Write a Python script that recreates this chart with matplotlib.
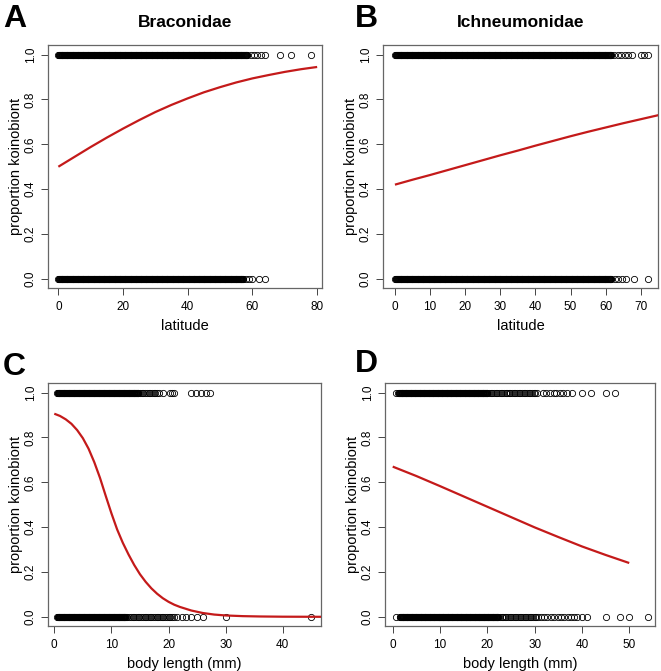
import numpy as np
import matplotlib
matplotlib.use('Agg')
from matplotlib import pyplot as plt

plt.rcParams['font.family'] = ['Liberation Sans', 'DejaVu Sans']

# Panel A - Braconidae, latitude
a_curve_x = [0, 5, 10, 15, 20, 25, 30, 35, 40, 45, 50, 55, 60, 65, 70, 75, 80]
a_curve_y = [0.500, 0.544, 0.588, 0.630, 0.670, 0.708, 0.744, 0.776, 0.805,
             0.832, 0.855, 0.876, 0.894, 0.909, 0.923, 0.935, 0.945]
a_band_top = (0, 58.5)
a_band_bot = (0, 57.3)
a_out_top = [59.5, 60.5, 61.5, 62.5, 64, 68.5, 72, 78]
a_out_bot = [58, 59, 60, 62, 64]

# Panel B - Ichneumonidae, latitude
b_curve_x = [0, 5, 10, 15, 20, 25, 30, 35, 40, 45, 50, 55, 60, 65, 70, 75]
b_curve_y = [0.420, 0.442, 0.463, 0.485, 0.507, 0.529, 0.551, 0.572, 0.594,
             0.615, 0.636, 0.656, 0.675, 0.694, 0.712, 0.730]
b_band_top = (0.3, 61.7)
b_band_bot = (0.3, 61.7)
b_out_top = [0, 62.5, 63.5, 64.5, 65.5, 66.5, 67.5, 70, 71, 72]
b_out_bot = [0, 62.7, 63.6, 64.6, 65.8, 68, 72]

# Panel C - Braconidae, body length
c_curve_x = [0, 1, 2, 3, 4, 5, 6, 7, 8, 9, 10, 11, 12, 13, 14, 15, 16, 17, 18,
             19, 20, 21, 22, 24, 26, 28, 30, 33, 36, 40, 47]
c_curve_y = [0.906, 0.896, 0.881, 0.861, 0.833, 0.797, 0.750, 0.690, 0.620,
             0.540, 0.462, 0.390, 0.330, 0.278, 0.231, 0.190, 0.156, 0.127,
             0.103, 0.083, 0.067, 0.054, 0.044, 0.028, 0.017, 0.010, 0.006,
             0.003, 0.0015, 0.0005, 0.0]
c_band_top = (0.5, 14.7)
c_semi_top = (14.7, 18.3)
c_band_bot = (0.5, 12.5)
c_semi_bot = (12.5, 20.9)
c_out_top = [19, 20.2, 20.6, 21, 24, 24.8, 25.7, 26.5, 27.2]
c_out_bot = [21.5, 22.3, 23, 24, 25, 26, 30, 45]

# Panel D - Ichneumonidae, body length
d_curve_x = [0, 5, 10, 15, 20, 25, 30, 35, 40, 45, 50]
d_curve_y = [0.670, 0.628, 0.583, 0.537, 0.491, 0.445, 0.399, 0.356, 0.314,
             0.276, 0.240]
d_band_top = (1.2, 20)
d_semi_top = (20, 30.8)
d_band_bot = (1.5, 22.3)
d_semi_bot = (22.3, 30.8)
d_out_top = [0.7, 31.8, 32.5, 33.2, 34, 34.6, 35.4, 36, 36.9, 38, 40, 42, 45, 47]
d_out_bot = [0.8, 31.4, 32, 32.7, 33.4, 34.2, 34.9, 35.6, 36.3, 37, 37.7,
             38.4, 39, 40, 41, 45, 48, 50, 54]

y_ticks = [0.0, 0.2, 0.4, 0.6, 0.8, 1.0]

W, H = 661, 671
fig = plt.figure(figsize=(W / 100, H / 100), dpi=100)


def add_axes(left, top, right, bottom):
  ax = fig.add_axes([left / W, 1 - bottom / H, (right - left) / W, (bottom - top) / H])
  ax.width_px = right - left
  return ax


def circles(ax, xs, y):
  ax.plot(xs, [y] * len(xs), 'o', mfc='none', mec='black', ms=4.5, mew=0.6,
          clip_on=False)


def band(ax, rng, y, step):
  if rng is None:
    return
  xs = np.arange(rng[0], rng[1] + 1e-9, step)
  circles(ax, list(xs), y)


def draw_panel(ax, cx, cy, top, bot, out_top, out_bot, xlim, xticks, xlabel,
               semi_top=None, semi_bot=None, semi_step=0.5):
  step = (xlim[1] - xlim[0]) / 600
  band(ax, top, 1.0, step)
  band(ax, bot, 0.0, step)
  band(ax, semi_top, 1.0, semi_step)
  band(ax, semi_bot, 0.0, semi_step)
  circles(ax, out_top, 1.0)
  circles(ax, out_bot, 0.0)
  ax.plot(cx, cy, color='#C41A1A', lw=1.6, solid_capstyle='butt', zorder=5)

  ax.set_xlim(*xlim)
  ax.set_ylim(-0.041, 1.043)
  ax.set_xticks(xticks)
  ax.set_yticks(y_ticks)
  ax.set_yticklabels(['%.1f' % v for v in y_ticks], rotation=90, va='center')
  ax.tick_params(direction='out', length=5, width=0.7, color='#444444',
                 labelsize=8.5, pad=4)
  ax.tick_params(axis='y', pad=3)
  for s in ax.spines.values():
    s.set_color('#666666')
    s.set_linewidth(0.9)
  ax.set_xlabel(xlabel, fontsize=10.5, labelpad=5)
  ax.set_ylabel('proportion koinobiont', fontsize=10.5, va='center')
  ax.yaxis.set_label_coords(-32 / ax.width_px, 0.5)


axA = add_axes(48, 45, 322, 288)
draw_panel(axA, a_curve_x, a_curve_y, a_band_top, a_band_bot, a_out_top, a_out_bot,
           (-3.2, 81.5), [0, 20, 40, 60, 80], 'latitude')
axA.set_title('Braconidae', fontsize=12.5, fontweight='bold', pad=13)

axB = add_axes(383, 45, 658, 288)
draw_panel(axB, b_curve_x, b_curve_y, b_band_top, b_band_bot, b_out_top, b_out_bot,
           (-3.4, 74.9), [0, 10, 20, 30, 40, 50, 60, 70], 'latitude')
axB.set_title('Ichneumonidae', fontsize=12.5, fontweight='bold', pad=13)

axC = add_axes(48, 383, 321, 626)
draw_panel(axC, c_curve_x, c_curve_y, c_band_top, c_band_bot, c_out_top, c_out_bot,
           (-1.1, 46.7), [0, 10, 20, 30, 40], 'body length (mm)',
           semi_top=c_semi_top, semi_bot=c_semi_bot, semi_step=0.3)

axD = add_axes(385, 383, 655, 626)
draw_panel(axD, d_curve_x, d_curve_y, d_band_top, d_band_bot, d_out_top, d_out_bot,
           (-1.63, 55.45), [0, 10, 20, 30, 40, 50], 'body length (mm)',
           semi_top=d_semi_top, semi_bot=d_semi_bot, semi_step=0.35)

# panel letters
for lab, x, y in [('A', 3, 4), ('B', 355, 4), ('C', 3, 352), ('D', 355, 349)]:
  fig.text(x / W, 1 - y / H, lab, fontsize=23, fontweight='bold', ha='left', va='top')

fig.savefig('out.png', dpi=100)
